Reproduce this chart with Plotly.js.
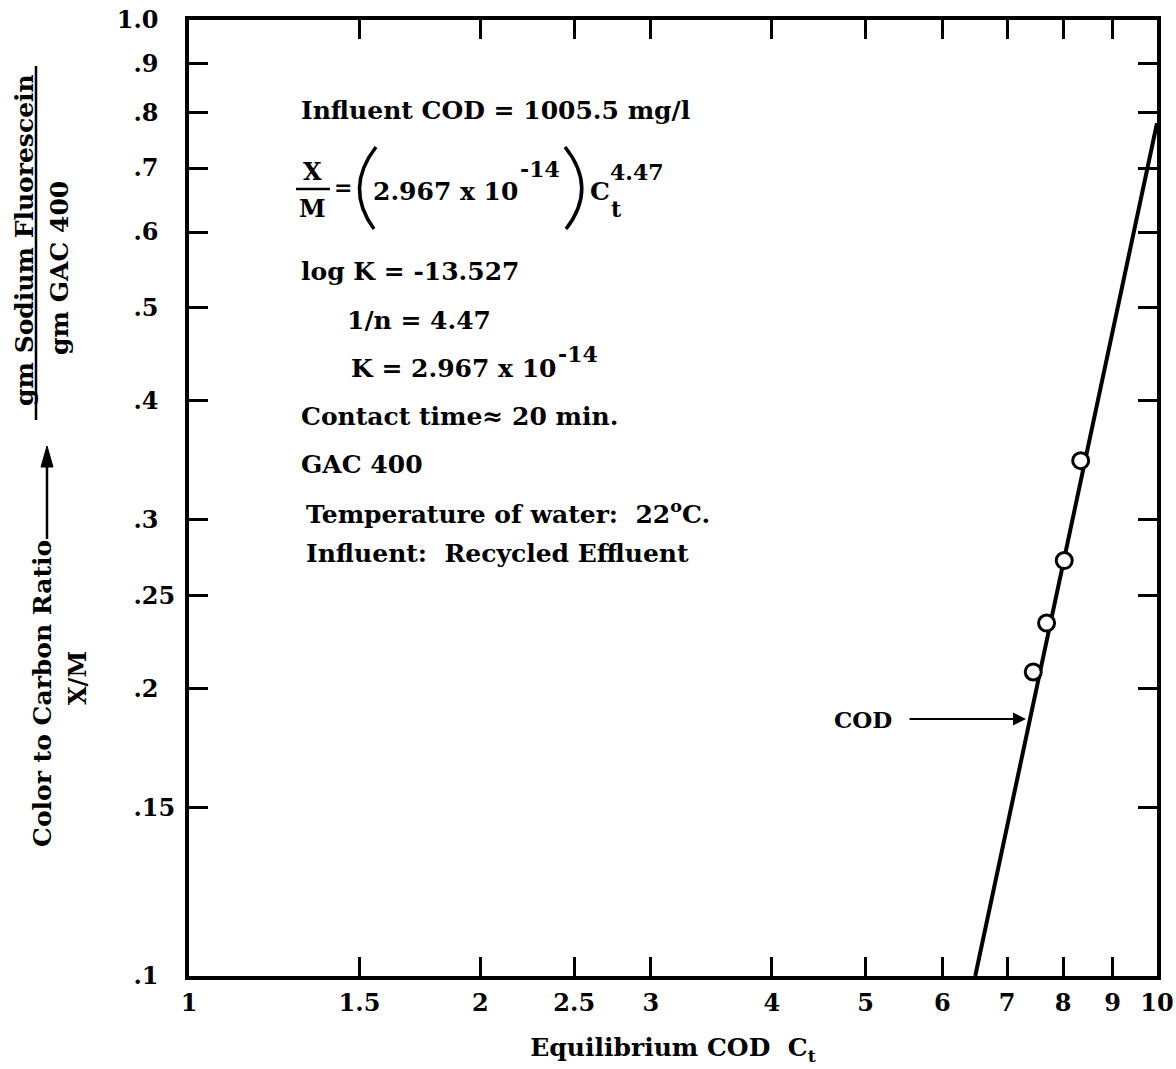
<!DOCTYPE html>
<html>
<head>
<meta charset="utf-8">
<script src="https://cdn.plot.ly/plotly-3.0.1.min.js"></script>
<style>
  html, body { margin: 0; padding: 0; background: #ffffff; }
  #chart { width: 1176px; height: 1069px; }
</style>
</head>
<body>
<div id="chart"></div>
<script>
// Isotherm data: equilibrium COD vs. X/M (log-log)
const codMeasured = [7.45, 7.69, 8.02, 8.34];
const ratioMeasured = [0.208, 0.234, 0.272, 0.346];

// Fitted isotherm line end points
const codFit = [6.49, 10];
const ratioFit = [0.1, 0.78];

const xTickVals = [1, 1.5, 2, 2.5, 3, 4, 5, 6, 7, 8, 9, 10];
const xTickText = ['1', '1.5', '2', '2.5', '3', '4', '5', '6', '7', '8', '9', '10'];
const yTickVals = [0.1, 0.15, 0.2, 0.25, 0.3, 0.4, 0.5, 0.6, 0.7, 0.8, 0.9, 1.0];
const FS = '\u2007'; // figure space keeps short labels left-aligned
const yTickText = ['.1' + FS, '.15', '.2' + FS, '.25', '.3' + FS, '.4' + FS, '.5' + FS,
                   '.6' + FS, '.7' + FS, '.8' + FS, '.9' + FS, '1.0' + FS];

// Plot box in page pixels
const L = 189, R = 19, T = 20, B = 93;
const W = 1176 - L - R, H = 1069 - T - B;
const px = x => (x - L) / W;            // page x -> paper x
const py = y => (1069 - B - y) / H;     // page y -> paper y

const FONT = 'DejaVu Serif, serif';
const txt = (size) => ({ family: FONT, size: size, color: '#000', weight: 'bold' });

function label(text, x, y, size, opts) {
  return Object.assign({
    text: text, xref: 'paper', yref: 'paper', x: px(x), y: py(y),
    xanchor: 'left', yanchor: 'middle', showarrow: false, font: txt(size)
  }, opts || {});
}

const NB = '\u00a0';
const TS = 25;   // body text size
const SS = 22;   // raised / lowered figures
const tight = { borderpad: 0 };

const annotations = [
  label('Influent COD = 1005.5 mg/l', 299, 110, TS),
  label('X', 312, 172, 24, { xanchor: 'center' }),
  label('M', 312, 208, 24, { xanchor: 'center' }),
  label('=', 343, 187, 22, { xanchor: 'center' }),
  label('2.967 x 10', 371, 192, TS),
  label('-14', 518, 169, SS),
  label('C', 589, 192, TS, tight),
  label('t', 610, 209, SS, tight),
  label('4.47', 609, 172, SS, tight),
  label('log K = -13.527', 299, 271, TS),
  label('1/n = 4.47', 345, 320, TS),
  label('K = 2.967 x 10', 349, 368, TS),
  label('-14', 556, 354, SS),
  label('Contact time\u2248 20 min.', 299, 416, TS),
  label('GAC 400', 299, 464, TS),
  label('Temperature of water:' + NB + NB + '22<sup>o</sup>C.', 304, 512, TS),
  label('Influent:' + NB + NB + 'Recycled Effluent', 304, 553, TS),

  // Curve label with pointer
  {
    text: 'COD', xref: 'paper', yref: 'paper', x: px(1026), y: py(719),
    ax: 863 - 1026, ay: 0, showarrow: true, arrowhead: 2, arrowsize: 1.3,
    arrowwidth: 2, arrowcolor: '#000', startstandoff: 16, font: txt(23)
  },

  // Y-axis title pieces
  label('Color to Carbon Ratio', 42, 694, TS, { xanchor: 'center', textangle: -90 }),
  label('X/M', 77, 678, 24, { xanchor: 'center', textangle: -90 }),
  label('gm Sodium Fluorescein', 24, 240, TS, { xanchor: 'center', textangle: -90 }),
  label('gm GAC 400', 59, 268, TS, { xanchor: 'center', textangle: -90 })
];

const shapes = [
  // fraction bar X/M
  { type: 'line', xref: 'paper', yref: 'paper', x0: px(296), x1: px(330), y0: py(189), y1: py(189),
    line: { color: '#000', width: 2.5 } },
  // large parentheses
  { type: 'path', xref: 'paper', yref: 'paper',
    path: `M ${px(376)} ${py(147)} Q ${px(344)} ${py(188)} ${px(374)} ${py(229)}`,
    line: { color: '#000', width: 3.5 } },
  { type: 'path', xref: 'paper', yref: 'paper',
    path: `M ${px(565)} ${py(147)} Q ${px(598)} ${py(188)} ${px(566)} ${py(229)}`,
    line: { color: '#000', width: 3.5 } },
  // y-title fraction bar
  { type: 'line', xref: 'paper', yref: 'paper', x0: px(36), x1: px(36), y0: py(66), y1: py(420),
    line: { color: '#000', width: 2.5 } },
  // upward arrow after "Color to Carbon Ratio"
  { type: 'line', xref: 'paper', yref: 'paper', x0: px(47), x1: px(47), y0: py(539), y1: py(462),
    line: { color: '#000', width: 2.5 } },
  { type: 'path', xref: 'paper', yref: 'paper',
    path: `M ${px(41)} ${py(467)} L ${px(47)} ${py(446)} L ${px(53)} ${py(467)} Z`,
    fillcolor: '#000', line: { color: '#000', width: 1 } }
];

const traces = [
  {
    x: codFit, y: ratioFit, mode: 'lines', type: 'scatter',
    line: { color: '#000', width: 4 }, hoverinfo: 'skip', showlegend: false
  },
  {
    x: codMeasured, y: ratioMeasured, mode: 'markers', type: 'scatter',
    marker: { symbol: 'circle', size: 16, color: '#ffffff', line: { color: '#000', width: 3 } },
    showlegend: false
  }
];

const axisCommon = {
  type: 'log', showgrid: false, zeroline: false, showline: true, linecolor: '#000', linewidth: 4,
  ticks: 'inside', ticklen: 19, tickwidth: 3, tickcolor: '#000', mirror: 'ticks',
  tickmode: 'array', tickfont: txt(24)
};

const layout = {
  width: 1176, height: 1069,
  margin: { l: L, r: R, t: T, b: B, pad: 0 },
  paper_bgcolor: '#ffffff', plot_bgcolor: '#ffffff',
  font: txt(TS),
  xaxis: Object.assign({}, axisCommon, {
    range: [0, 1], tickvals: xTickVals, ticktext: xTickText, ticklabelstandoff: 2,
    title: { text: NB + NB + NB + 'Equilibrium COD' + NB + NB + 'C<sub>t</sub>', font: txt(TS), standoff: 24 }
  }),
  yaxis: Object.assign({}, axisCommon, {
    range: [-1, 0], tickvals: yTickVals, ticktext: yTickText, ticklabelstandoff: 5
  }),
  annotations: annotations,
  shapes: shapes,
  showlegend: false
};

Plotly.newPlot('chart', traces, layout, { displayModeBar: false, staticPlot: true });
</script>
</body>
</html>
